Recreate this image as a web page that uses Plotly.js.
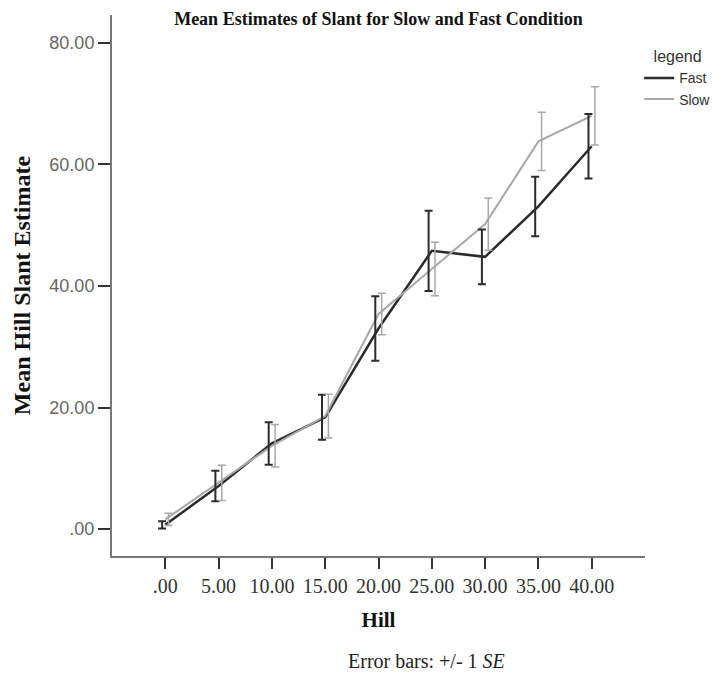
<!DOCTYPE html>
<html>
<head>
<meta charset="utf-8">
<script src="https://cdn.plot.ly/plotly-3.0.1.min.js"></script>
<style>html,body{margin:0;padding:0;background:#fff;}</style>
</head>
<body>
<div id="chart" style="width:712px;height:675px;"></div>
<script>
// Data
var hill = [0, 5, 10, 15, 20, 25, 30, 35, 40];
var hillTickText = [".00", "5.00", "10.00", "15.00", "20.00", "25.00", "30.00", "35.00", "40.00"];
var fastMean = [0.7, 7.1, 14.1, 18.4, 33.0, 45.8, 44.8, 53.1, 63.0];
var fastSE   = [0.6, 2.5, 3.5, 3.7, 5.3, 6.6, 4.5, 4.9, 5.3];
var slowMean = [1.6, 7.6, 13.7, 18.6, 35.4, 42.8, 50.2, 63.8, 68.0];
var slowSE   = [1.0, 2.9, 3.5, 3.6, 3.4, 4.4, 4.3, 4.8, 4.8];
var yTickVals = [0, 20, 40, 60, 80];
var yTickText = [".00", "20.00", "40.00", "60.00", "80.00"];

var fastColor = "#2b2b2b";
var slowColor = "#a8a8a8";
var xRange = [-5, 45];
var dodge = 0.3;

var traces = [
  {x: hill, y: fastMean, name: "Fast", type: "scatter", mode: "lines",
   line: {color: fastColor, width: 2.5}, xaxis: "x", yaxis: "y"},
  {x: hill, y: slowMean, name: "Slow", type: "scatter", mode: "lines",
   line: {color: slowColor, width: 2}, xaxis: "x", yaxis: "y"},
  {x: hill, y: fastMean, type: "scatter", mode: "markers", showlegend: false, hoverinfo: "skip",
   marker: {size: 1, opacity: 0}, xaxis: "x2", yaxis: "y",
   error_y: {type: "data", array: fastSE, visible: true, color: fastColor, thickness: 2, width: 4}},
  {x: hill, y: slowMean, type: "scatter", mode: "markers", showlegend: false, hoverinfo: "skip",
   marker: {size: 1, opacity: 0}, xaxis: "x3", yaxis: "y",
   error_y: {type: "data", array: slowSE, visible: true, color: slowColor, thickness: 1.5, width: 4}}
];

var layout = {
  width: 712, height: 675,
  margin: {l: 112, r: 67, t: 15, b: 119, autoexpand: false},
  paper_bgcolor: "#ffffff", plot_bgcolor: "#ffffff",
  showlegend: true,
  title: {text: "<b>Mean Estimates of Slant for Slow and Fast Condition</b>",
          font: {family: "Liberation Serif", size: 18, color: "#111"},
          x: 0.5, xref: "paper", xanchor: "center", y: 0.973, yref: "container", yanchor: "middle"},
  xaxis: {range: xRange, tickvals: hill, ticktext: hillTickText,
          showgrid: false, zeroline: false, showline: true, linecolor: "#777", linewidth: 2,
          ticks: "outside", ticklen: 11, tickwidth: 2, tickcolor: "#333",
          tickfont: {family: "Liberation Serif", size: 20, color: "#333"},
          title: {text: "<b>Hill</b>", font: {family: "Liberation Serif", size: 21, color: "#111"}, standoff: 16}},
  xaxis2: {range: [xRange[0] + dodge, xRange[1] + dodge], overlaying: "x", visible: false},
  xaxis3: {range: [xRange[0] - dodge, xRange[1] - dodge], overlaying: "x", visible: false},
  yaxis: {range: [-4.43, 84.6], tickvals: yTickVals, ticktext: yTickText,
          showgrid: false, zeroline: false, showline: true, linecolor: "#777", linewidth: 2,
          ticks: "outside", ticklen: 12, tickwidth: 2, tickcolor: "#333",
          tickfont: {family: "Liberation Sans", size: 18, color: "#666"},
          title: {text: "<b>Mean Hill Slant Estimate</b>", font: {family: "Liberation Serif", size: 24, color: "#111"}, standoff: 12}},
  legend: {title: {text: "legend", side: "top center", font: {family: "Liberation Sans", size: 16, color: "#333"}},
           font: {family: "Liberation Sans", size: 14, color: "#333"},
           x: 0.989, xanchor: "left", y: 0.951, yanchor: "top",
           bgcolor: "rgba(0,0,0,0)", tracegroupgap: 0, itemwidth: 30},
  annotations: [
    {text: "Error bars: +/- 1 <i>SE</i>", xref: "paper", yref: "paper",
     x: (426 - 112) / 533, y: (556 - 661) / 541, xanchor: "center", yanchor: "middle",
     showarrow: false, font: {family: "Liberation Serif", size: 20, color: "#222"}}
  ]
};

Plotly.newPlot("chart", traces, layout, {displayModeBar: false, staticPlot: true});
</script>
</body>
</html>
